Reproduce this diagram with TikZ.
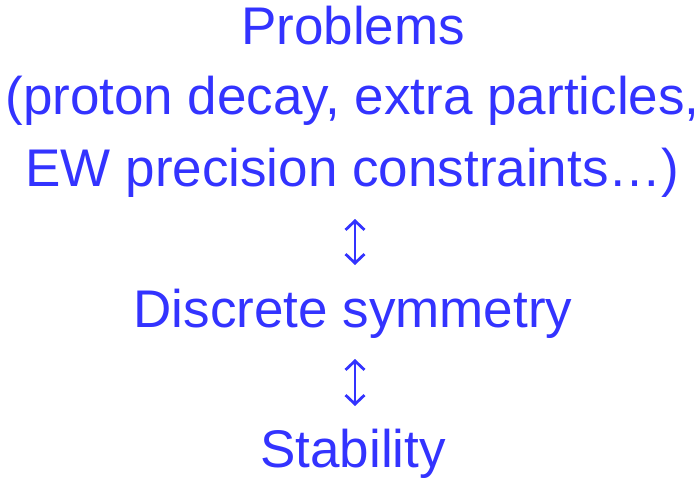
\documentclass[tikz,border=0pt]{standalone}
\usepackage{fontspec}
\setmainfont{Liberation Sans}
\usetikzlibrary{arrows.meta}
\definecolor{txtblue}{HTML}{3333FF}
\tikzset{
  line/.style={font=\fontsize{53}{62}\selectfont, text=txtblue, anchor=base, inner sep=0pt},
  dblarrow/.style={draw=txtblue, line width=2.8pt, {Straight Barb[length=9pt,width=19pt,line width=2.8pt]}-{Straight Barb[length=9pt,width=19pt,line width=2.8pt]}}
}
\begin{document}
\begin{tikzpicture}[x=1pt,y=-1pt]
\useasboundingbox (0,0) rectangle (700,481);
\node[line] (l1) at (353,45) {Problems};
\node[line] (l2) at (352.5,115) {(proton decay, extra particles,};
\node[line] (l3) at (352.5,186) {EW precision constraints…)};
\node[line] (l4) at (353,327) {Discrete symmetry};
\node[line] (l5) at (353,467) {Stability};
\coordinate (a1t) at (355,219);
\coordinate (a1b) at (355,265);
\coordinate (a2t) at (355,359);
\coordinate (a2b) at (355,406);
\draw[dblarrow] (a1t) -- (a1b);
\draw[dblarrow] (a2t) -- (a2b);
\end{tikzpicture}
\end{document}
